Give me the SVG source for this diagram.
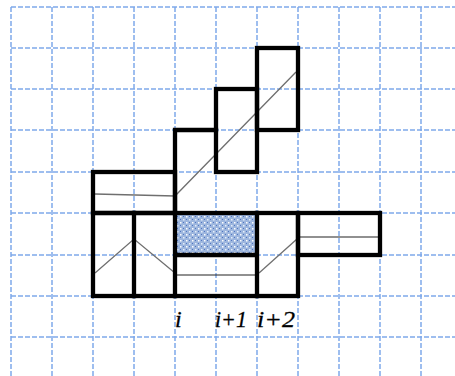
<svg xmlns="http://www.w3.org/2000/svg" width="455" height="376" viewBox="0 0 455 376">
<style>
.grid{stroke:#7fa9ea;stroke-width:1.5;stroke-dasharray:5 2;fill:none}
.thick{stroke:#000;stroke-width:4.3;fill:none;stroke-linecap:square}
.thin{stroke:#6f6f6f;stroke-width:1.3;fill:none}
.thinb{stroke:#222;stroke-width:1.2;fill:none}
.lbl{font-family:"Liberation Serif",serif;font-style:italic;font-size:24px;fill:#000;stroke:#000;stroke-width:0.3}
</style>
<defs>
<pattern id="dots" width="6" height="6" patternUnits="userSpaceOnUse">
<rect width="6" height="6" fill="#9db6de"/>
<rect x="0" y="0" width="1.5" height="1.5" fill="#ffffff"/>
<rect x="3" y="3" width="1.5" height="1.5" fill="#e8f0fb"/>
<rect x="3" y="0" width="1" height="1" fill="#4f74c0"/>
<rect x="0" y="3" width="1" height="1" fill="#4f74c0"/>
</pattern>
</defs>
<rect width="455" height="376" fill="#fff"/>
<g id="grid">
<path class="grid" d="M11 7V376M52 7V376M93 7V376M134 7V376M175 7V376M216 7V376M257 7V376M298 7V376M339 7V376M380 7V376M421 7V376"/>
<path class="grid" d="M11 7H455M11 48H455M11 89H455M11 130H455M11 172H455M11 213H455M11 255H455M11 296H455M11 337H455"/>
</g>
<g id="shaded">
<rect x="175" y="213" width="82" height="42" fill="url(#dots)"/>
</g>
<g id="connectors">
<path class="thin" d="M95 194L175 196L296 72"/>
<path class="thin" d="M95 273L134 239L175 273"/>
<path class="thin" d="M259 273L297 239"/>
<path class="thinb" d="M175 275H257"/>
<path class="thinb" d="M298 237H380"/>
</g>
<g id="boxes">
<rect id="boxC" class="thick" x="257" y="48" width="41" height="82"/>
<rect id="boxB" class="thick" x="216" y="89" width="41" height="83"/>
<path id="boxA" class="thick" d="M175 213V130H216"/>
<rect id="boxLeftTop" class="thick" x="93" y="172" width="82" height="41"/>
<rect id="rowBottom" class="thick" x="93" y="213" width="205" height="83"/>
<path class="thick" d="M134 213V296M175 213V296M257 213V296M175 255H257"/>
<rect id="boxRight" class="thick" x="298" y="213" width="82" height="42"/>
</g>
<g id="labels">
<text class="lbl" x="175" y="327">i</text>
<text class="lbl" x="215" y="327" textLength="32" lengthAdjust="spacingAndGlyphs">i+1</text>
<text class="lbl" x="257" y="327" textLength="38" lengthAdjust="spacingAndGlyphs">i+2</text>
</g>
</svg>
